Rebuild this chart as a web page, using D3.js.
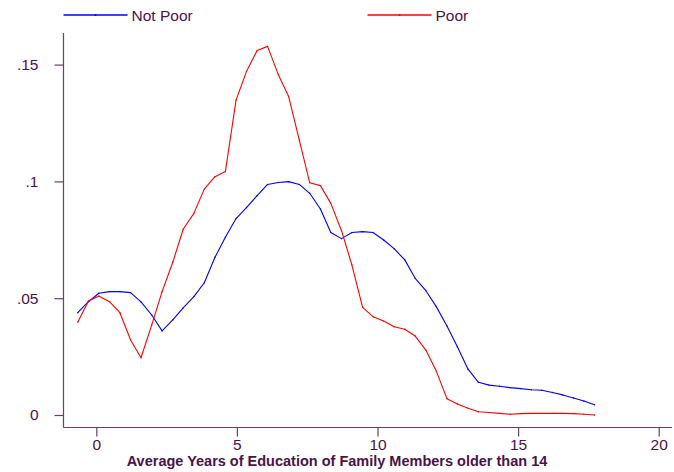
<!DOCTYPE html>
<html>
<head>
<meta charset="utf-8">
<script src="https://cdn.jsdelivr.net/npm/d3@7"></script>
<style>
  html, body { margin: 0; padding: 0; background: #fff; }
  svg { display: block; font-family: "Liberation Sans", Arial, sans-serif; }
</style>
</head>
<body>
<svg id="chart" width="674" height="472"></svg>
<script>
const xValues = [-0.66, -0.28, 0.09, 0.47, 0.84, 1.22, 1.59, 1.97, 2.34, 2.72,
  3.09, 3.47, 3.84, 4.22, 4.59, 4.97, 5.34, 5.72, 6.09, 6.47,
  6.84, 7.22, 7.59, 7.97, 8.34, 8.72, 9.09, 9.47, 9.84, 10.22,
  10.59, 10.97, 11.34, 11.72, 12.09, 12.47, 12.84, 13.22, 13.59, 13.97,
  14.34, 14.72, 15.09, 15.47, 15.84, 16.22, 16.59, 16.97, 17.34, 17.72];

const notPoor = [0.0438, 0.0485, 0.0521, 0.0528, 0.0528, 0.0524, 0.0484, 0.0428, 0.0360, 0.0407,
  0.0459, 0.0507, 0.0566, 0.0675, 0.0761, 0.0841, 0.0888, 0.0939, 0.0987, 0.0995,
  0.0999, 0.0987, 0.0949, 0.0882, 0.0781, 0.0755, 0.0781, 0.0785, 0.0781, 0.0749,
  0.0712, 0.0664, 0.0585, 0.0532, 0.0464, 0.0381, 0.0292, 0.0196, 0.0140, 0.0128,
  0.0123, 0.0117, 0.0113, 0.0108, 0.0106, 0.0096, 0.0086, 0.0073, 0.0060, 0.0044];

const poor = [0.0397, 0.0488, 0.0509, 0.0485, 0.0438, 0.0321, 0.0245, 0.0385, 0.0528, 0.0654,
  0.0795, 0.0863, 0.0967, 0.1020, 0.1042, 0.1348, 0.1470, 0.1560, 0.1578, 0.1458,
  0.1363, 0.1177, 0.0994, 0.0982, 0.0906, 0.0789, 0.0642, 0.0461, 0.0421, 0.0402,
  0.0378, 0.0367, 0.0338, 0.0278, 0.0188, 0.0070, 0.0047, 0.0029, 0.0014, 0.0011,
  0.0007, 0.0003, 0.0006, 0.0007, 0.0007, 0.0007, 0.0007, 0.0006, 0.0003, 0.0000];

const seriesNames = ["Not Poor", "Poor"];
const seriesColors = ["#0000ff", "#ff0000"];
const xTicks = [0, 5, 10, 15, 20];
const yTicks = [0, 0.05, 0.1, 0.15];
const yTickLabels = ["0", ".05", ".1", ".15"];
const xTitle = "Average Years of Education of Family Members older than 14";

const textColor = "#4a124a";
const axisColor = "#6a3f6a";

const svg = d3.select("#chart");
const x = d3.scaleLinear().domain([0, 20]).range([96.3, 658.7]);
const y = d3.scaleLinear().domain([0, 0.15]).range([415, 64.6]);

const axisLeftX = 63.5, axisBottomY = 427.5, plotTop = 33, plotRight = 672;

// Y axis
const gy = svg.append("g").attr("transform", `translate(${axisLeftX},0)`);
gy.call(d3.axisLeft(y).tickValues(yTicks).tickFormat((d, i) => yTickLabels[i]).tickSize(9).tickSizeOuter(0).tickPadding(16));
gy.select(".domain").remove();
gy.append("line").attr("x1", 0).attr("x2", 0).attr("y1", plotTop).attr("y2", axisBottomY)
  .attr("stroke", axisColor).attr("stroke-width", 1.2);

// X axis
const gx = svg.append("g").attr("transform", `translate(0,${axisBottomY})`);
gx.call(d3.axisBottom(x).tickValues(xTicks).tickFormat(d3.format("d")).tickSize(9).tickSizeOuter(0).tickPadding(2));
gx.select(".domain").remove();
gx.append("line").attr("x1", axisLeftX).attr("x2", plotRight).attr("y1", 0).attr("y2", 0)
  .attr("stroke", axisColor).attr("stroke-width", 1.2);

svg.selectAll(".tick line").attr("stroke", axisColor).attr("stroke-width", 1.2);
svg.selectAll(".tick text").attr("fill", textColor).attr("font-size", 15.5)
  .attr("font-family", "'Liberation Sans', Arial, sans-serif");

// X title
svg.append("text").attr("x", 337).attr("y", 466).attr("text-anchor", "middle")
  .attr("font-size", 14.5).attr("font-weight", "bold").attr("fill", textColor)
  .text(xTitle);

// Lines
const series = [notPoor, poor];
const line = d3.line().x((d, i) => x(xValues[i])).y(d => y(d));
series.forEach((vals, k) => {
  svg.append("path").datum(vals).attr("d", line).attr("fill", "none")
    .attr("stroke", seriesColors[k]).attr("stroke-width", 1.1).attr("stroke-linejoin", "round");
  svg.append("g").selectAll("circle").data(vals).join("circle")
    .attr("cx", (d, i) => x(xValues[i])).attr("cy", d => y(d)).attr("r", 0.7)
    .attr("fill", seriesColors[k]);
});

// Legend
const legendX = [63.5, 367.5];
seriesNames.forEach((name, k) => {
  const g = svg.append("g").attr("transform", `translate(${legendX[k]},15)`);
  g.append("line").attr("x1", 0).attr("x2", 64).attr("y1", 0).attr("y2", 0)
    .attr("stroke", seriesColors[k]).attr("stroke-width", 1.3);
  g.append("circle").attr("cx", 32).attr("cy", 0).attr("r", 1).attr("fill", seriesColors[k]);
  g.append("text").attr("x", 68).attr("y", 5.5).attr("font-size", 15.5)
    .attr("fill", textColor).text(name);
});
</script>
</body>
</html>
